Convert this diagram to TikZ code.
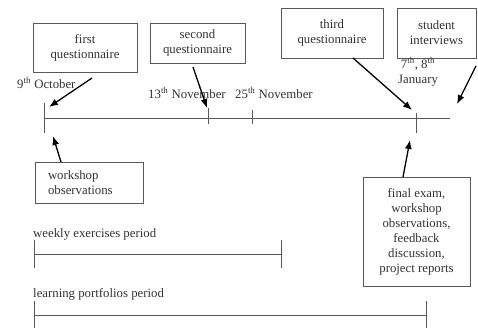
\documentclass[tikz,border=0pt]{standalone}
\usepackage{fontspec}
\setmainfont{Liberation Serif}
\usetikzlibrary{arrows.meta}
\begin{document}
\begin{tikzpicture}[x=1pt,y=-1pt,
  every node/.style={font=\fontsize{12.8}{15}\selectfont, text=black!80},
  event/.style={draw=black!65, line width=0.9pt, align=center, inner sep=0pt},
  axis/.style={draw=black!65, line width=0.9pt},
  pointer/.style={draw=black, line width=1.3pt, -{Latex[length=9pt,width=7pt]}},
  lbl/.style={anchor=base west, inner sep=0pt}]
\useasboundingbox (0,0) rectangle (478,327);

% data-collection events
\node[event, minimum width=104pt, minimum height=49pt] (q1) at (85,47.5) {first\\questionnaire};
\node[event, minimum width=95pt, minimum height=40pt] (q2) at (197.5,43) {second\\questionnaire};
\node[event, minimum width=102pt, minimum height=50pt] (q3) at (332,33) {third\\questionnaire};
\node[event, minimum width=79pt, minimum height=50pt] (si) at (436.5,33) {student\\interviews};
\node[event, minimum width=108pt, minimum height=41pt, text width=82pt, inner xsep=13pt, align=left] (wo) at (89,182.5) {workshop\\observations};
\node[event, minimum width=107pt, minimum height=109pt] (fe) at (416.5,231.5) {final exam,\\workshop\\observations,\\feedback\\discussion,\\project reports};

% dates
\node[lbl] (oct) at (17,88) {9\textsuperscript{th} October};
\node[lbl] (nov13) at (148,98) {13\textsuperscript{th} November};
\node[lbl] (nov25) at (235,98) {25\textsuperscript{th} November};
\node[anchor=base, inner sep=0pt, align=center] (jan) at (418,83) {7\textsuperscript{th}, 8\textsuperscript{th}\\January};

% main time line with its ticks
\draw[axis] (44,118) -- (450,118);
\draw[axis] (44,103) -- (44,133);
\draw[axis] (208,108) -- (208,124);
\draw[axis] (252,110) -- (252,124);
\draw[axis] (416,113) -- (416,133);

% periods
\node[lbl] (wk) at (33,237) {weekly exercises period};
\draw[axis] (34,254) -- (281,254);
\draw[axis] (34,240) -- (34,268);
\draw[axis] (281,240) -- (281,268);

\node[lbl] (lp) at (33,297) {learning portfolios period};
\draw[axis] (34,315) -- (426,315);
\draw[axis] (34,301) -- (34,330);
\draw[axis] (426,301) -- (426,330);

% arrow ends
\coordinate (q1a) at (92,78);   \coordinate (q1b) at (49,107);
\coordinate (q2a) at (193,67);  \coordinate (q2b) at (207,108);
\coordinate (q3a) at (353,58);  \coordinate (q3b) at (412,110);
\coordinate (sia) at (476,66);  \coordinate (sib) at (457,104);
\coordinate (woa) at (61,162);  \coordinate (wob) at (53,136);
\coordinate (fea) at (403,177); \coordinate (feb) at (410,140);

\draw[pointer] (q1a) -- (q1b);
\draw[pointer] (q2a) -- (q2b);
\draw[pointer] (q3a) -- (q3b);
\draw[pointer] (sia) -- (sib);
\draw[pointer] (woa) -- (wob);
\draw[pointer] (fea) -- (feb);
\end{tikzpicture}
\end{document}
